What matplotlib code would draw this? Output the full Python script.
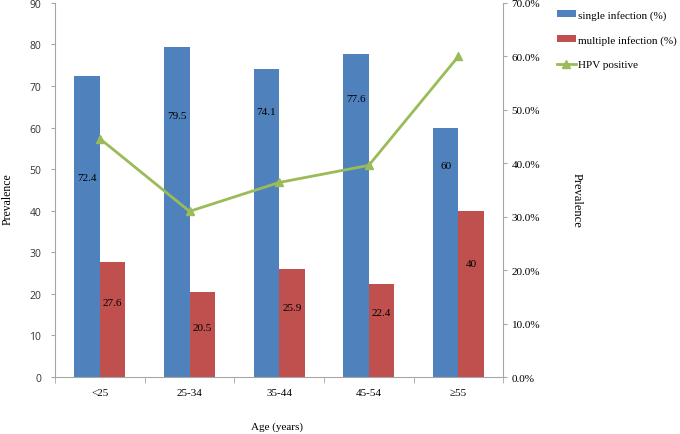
import matplotlib
matplotlib.use('Agg')
import matplotlib.pyplot as plt
import numpy as np

categories = ['<25', '25-34', '35-44', '45-54', '\u226555']
single_inf = [72.4, 79.5, 74.1, 77.6, 60]
multiple_inf = [27.6, 20.5, 25.9, 22.4, 40]
hpv_positive = [44.6, 31.0, 36.4, 39.6, 60.0]

# where Excel put the data labels (left axis units)
single_label_y = [48.1, 62.8, 63.8, 66.9, 50.8]
multiple_label_y = [18.0, 12.0, 16.8, 15.6, 27.2]

BLUE = '#4F81BD'
RED = '#C0504D'
GREEN = '#9BBB59'
AXIS = '#A6A6A6'
SERIF = 'Liberation Serif'
SANS = 'Open Sans'

fig = plt.figure(figsize=(6.8, 4.35), dpi=100)
ax = fig.add_axes([0.081, 0.131, 0.659, 0.860])
ax2 = ax.twinx()

x = np.arange(len(categories))
w = 0.285
b1 = ax.bar(x - w / 2, single_inf, w, color=BLUE, label='single infection (%)', zorder=2)
b2 = ax.bar(x + w / 2, multiple_inf, w, color=RED, label='multiple infection (%)', zorder=2)

for i in range(len(categories)):
    ax.text(x[i] - w / 2, single_label_y[i], f'{single_inf[i]:g}', ha='center', va='center',
            fontsize=8, family=SERIF, color='black', zorder=3)
    ax.text(x[i] + w / 2, multiple_label_y[i], f'{multiple_inf[i]:g}', ha='center', va='center',
            fontsize=8, family=SERIF, color='black', zorder=3)

ln, = ax2.plot(x, hpv_positive, color=GREEN, lw=2, marker='^', ms=5.5, label='HPV positive')

ax.set_xlim(-0.5, len(categories) - 0.5)
ax.set_ylim(0, 90)
ax.set_yticks(np.arange(0, 91, 10))
ax2.set_ylim(0, 70)
ax2.set_yticks(np.arange(0, 71, 10))
ax2.set_yticklabels([f'{v:.1f}%' for v in np.arange(0, 71, 10)])

ax.set_xticks(x)
ax.set_xticklabels(categories, family=SERIF, fontsize=8)
ax.set_xticks(np.arange(-0.5, len(categories)), minor=True)
ax.tick_params(axis='x', which='major', length=0, pad=8)
ax.tick_params(axis='x', which='minor', length=4, color=AXIS, direction='out')
ax.tick_params(axis='y', length=3, color=AXIS, labelsize=7.5, pad=7)
for lab in ax.get_yticklabels():
    lab.set_family(SANS)
    lab.set_color('#333333')
ax2.tick_params(axis='y', length=3, color=AXIS, labelsize=8, pad=3)
for lab in ax2.get_yticklabels():
    lab.set_family(SERIF)

for a in (ax, ax2):
    a.spines['top'].set_visible(False)
    for s in ('left', 'right', 'bottom'):
        a.spines[s].set_color(AXIS)
ax.spines['right'].set_visible(False)
ax2.spines['left'].set_visible(False)
ax2.spines['bottom'].set_visible(False)

# axis titles placed like the Excel original
fig.text(8 / 680, 1 - 199 / 435, 'Prevalence', family=SERIF, fontsize=8.5,
         rotation=90, ha='center', va='center')
fig.text(577 / 680, 1 - 200 / 435, 'Prevalence', family=SERIF, fontsize=9,
         rotation=-90, ha='center', va='center')
fig.text(277 / 680, 1 - 427 / 435, 'Age (years)', family=SERIF, fontsize=8,
         ha='center', va='center')

fig.legend([b1, b2, ln], ['single infection (%)', 'multiple infection (%)', 'HPV positive'],
           loc='upper left', bbox_to_anchor=(0.812, 0.985), frameon=False,
           prop={'family': SERIF, 'size': 8}, handlelength=1.75, handleheight=0.6,
           handletextpad=0.2, labelspacing=1.35, borderaxespad=0)

fig.savefig('out.png', dpi=100)
